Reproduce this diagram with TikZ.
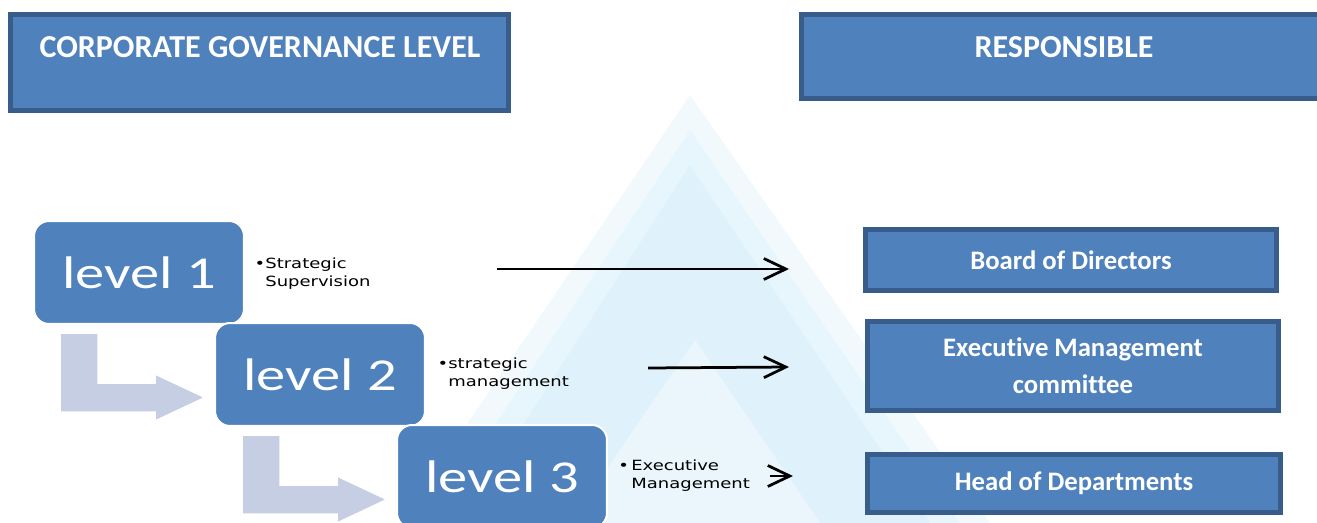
\documentclass[tikz,border=0pt]{standalone}
\usepackage{fontspec}
\setmainfont[Ligatures=NoCommon]{Carlito}
\newfontfamily\lvlfont[FakeStretch=1.28]{Carlito}
\newfontfamily\notefont[FakeStretch=1.28]{DejaVu Sans}
\usetikzlibrary{arrows.meta}

\tikzset{
  hdrbox/.style   = {draw=bordblue, line width=0.1cm, fill=boxblue, inner sep=0pt},
  hdrtext/.style  = {text=white, font=\bfseries\fontsize{18.2}{21}\selectfont, inner sep=0pt},
  resbox/.style   = {draw=bordblue, line width=0.1cm, fill=boxblue, text=white, align=center,
                     font=\bfseries\fontsize{15.2}{21}\selectfont, inner sep=0pt},
  lvlbox/.style   = {draw=white, line width=0.04cm, fill=boxblue, rounded corners=0.3cm,
                     minimum width=4.2cm, minimum height=2.06cm, inner sep=0pt, text=white,
                     font=\lvlfont\fontsize{26}{30}\selectfont},
  lvlnote/.style  = {anchor=west, align=left, inner sep=0pt, font=\notefont\fontsize{8}{10.2}\selectfont},
  bentarrow/.style= {draw=white, line width=0.03cm, fill=bentgrey},
  resparrow/.style= {line width=0.055cm, -{Straight Barb[length=0.44cm, width=0.42cm]}}
}

\begin{document}
\begin{tikzpicture}[x=0.02cm, y=-0.02cm]

\definecolor{boxblue}{RGB}{79,129,189};
\definecolor{bordblue}{RGB}{56,93,138};
\definecolor{bentgrey}{RGB}{197,206,226};
\definecolor{wmblue}{RGB}{200,232,248};

\useasboundingbox (0,0) rectangle (1317,523);
\clip (0,0) rectangle (1317,523);

% faint watermark behind everything
\fill[wmblue, opacity=0.25] (400,523) -- (690,95) -- (990,523) -- cycle;
\fill[wmblue, opacity=0.25] (430,523) -- (690,130) -- (960,523) -- cycle;
\fill[wmblue, opacity=0.25] (460,523) -- (690,165) -- (930,523) -- cycle;
\fill[white, opacity=0.35] (570,523) -- (695,340) -- (820,523) -- cycle;

% headers
\node[hdrbox, minimum width=9.96cm, minimum height=1.92cm] (govhdr) at (259.5,62.5) {};
\node[hdrtext] (govtxt) at (260,47) {CORPORATE GOVERNANCE LEVEL};

\node[hdrbox, minimum width=10.77cm, minimum height=1.68cm] (reshdr) at (1070.75,56.5) {};
\node[hdrtext] (restxt) at (1064,47) {RESPONSIBLE};

% bent arrows between the levels
\draw[bentarrow] (60,333) -- (98,333) -- (98,383) -- (155,383) -- (155,374)
  -- (205,397.5) -- (155,421) -- (155,412) -- (60,412) -- cycle;
\draw[bentarrow] (242,435) -- (280,435) -- (280,485) -- (337,485) -- (337,476)
  -- (387,499.5) -- (337,523) -- (337,514) -- (242,514) -- cycle;

% levels
\node[lvlbox] (lvlone)   at (139,272.5) {level 1};
\node[lvlbox] (lvltwo)   at (320,374.5) {level 2};
\node[lvlbox] (lvlthree) at (502,476.5) {level 3};

\node[lvlnote] (noteone)   at (265,274) {\llap{•}Strategic\\Supervision};
\node[lvlnote] (notetwo)   at (448,374) {\llap{•}strategic\\management};
\node[lvlnote] (notethree) at (631,476) {\llap{•\,}Executive\\Management};

% responsible bodies
\node[resbox, minimum width=8.22cm, minimum height=1.22cm] (board)    at (1071,260)   {Board of Directors};
\node[resbox, minimum width=8.22cm, minimum height=1.78cm] (execmgmt) at (1073,366)   {Executive Management\\committee};
\node[resbox, minimum width=8.26cm, minimum height=1.16cm] (heads)    at (1074,483.5) {Head of Departments};

% arrows to the right
\coordinate (sone)   at (497,269);
\coordinate (eone)   at (789,269);
\coordinate (stwo)   at (648,368);
\coordinate (etwo)   at (789,367);
\coordinate (sthree) at (770,476);
\coordinate (ethree) at (793,476);

\draw[resparrow] (sone) -- (eone);
\draw[resparrow] (stwo) -- (etwo);
\draw[resparrow] (sthree) -- (ethree);

\end{tikzpicture}
\end{document}
